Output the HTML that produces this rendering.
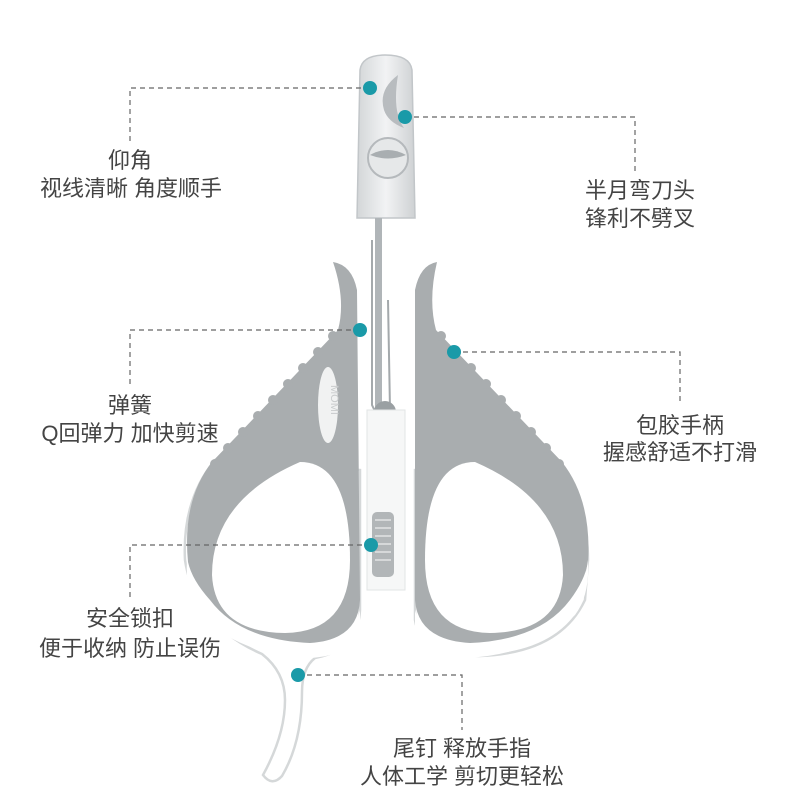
<!DOCTYPE html>
<html><head><meta charset="utf-8"><style>
html,body{margin:0;padding:0;background:#fff}
.t{font-family:"Liberation Sans","Noto Sans CJK SC",sans-serif;font-size:22px;fill:#444}
</style></head><body>
<svg width="800" height="800" viewBox="0 0 800 800" xmlns="http://www.w3.org/2000/svg">
<defs>
<linearGradient id="bl" x1="0" x2="1"><stop offset="0" stop-color="#d3d6d8"/><stop offset="0.5" stop-color="#f2f3f4"/><stop offset="1" stop-color="#ced1d3"/></linearGradient>
</defs>
<path d="M357,218 L360,70 Q362,55 385,55 Q410,55 412,70 L415,218 Z" fill="url(#bl)" stroke="#c2c6c9" stroke-width="1.5"/>
<path d="M398,75 Q378,90 384,110 Q388,122 404,128 Q392,112 398,75 Z" fill="#b8bcbf"/>
<ellipse cx="388" cy="158" rx="20" ry="20" fill="#e6e8e9" stroke="#b5b9bc" stroke-width="2"/>
<path d="M370,155 Q388,145 406,155 Q388,162 370,155 Z" fill="#a9aeb1"/>
<rect x="375" y="218" width="7" height="200" fill="#b0b5b8"/>
<path d="M372,240 L372,405 Q378,420 390,410 L388,300" fill="none" stroke="#a4a9ac" stroke-width="2"/>
<circle cx="385" cy="412" r="11" fill="#9aa0a3"/>
<rect x="367" y="410" width="38" height="180" fill="#f6f7f7" stroke="#e2e4e5"/>
<rect x="372" y="512" width="22" height="65" rx="5" fill="#b2b6b8"/>
<g stroke="#d6d8d9" stroke-width="2"><line x1="375" y1="520" x2="391" y2="520"/><line x1="375" y1="528" x2="391" y2="528"/><line x1="375" y1="536" x2="391" y2="536"/><line x1="375" y1="544" x2="391" y2="544"/><line x1="375" y1="552" x2="391" y2="552"/><line x1="375" y1="560" x2="391" y2="560"/></g>
<path d="M360,470 L360,610 Q358,650 315,658 Q302,668 302,692 Q302,742 282,776 Q272,787 263,775 Q285,735 285,700 Q285,672 262,654 Q195,625 185,560 Q182,500 215,460 Z" fill="#fff" stroke="#d5d8d9" stroke-width="2.5"/>
<path d="M333,262 Q352,265 357,290 L360,600 Q358,640 310,643 Q240,640 210,600 Q192,580 188,562 Q182,500 212,462 L338,330 Q346,300 333,262 Z" fill="#a9adaf"/>
<g fill="#a9adaf"><circle cx="333" cy="336" r="5"/><circle cx="318" cy="352" r="5"/><circle cx="303" cy="368" r="5"/><circle cx="288" cy="384" r="5"/><circle cx="273" cy="400" r="5"/><circle cx="258" cy="416" r="5"/><circle cx="243" cy="432" r="5"/><circle cx="228" cy="448" r="5"/><circle cx="215" cy="464" r="5"/></g>
<path d="M187,560 Q192,600 225,625 Q260,648 310,650 Q350,648 360,610 L360,630 Q355,655 310,658 Q240,655 200,615 Q185,595 187,560 Z" fill="#fff"/>
<path d="M300,462 Q350,462 350,560 Q350,632 285,633 Q215,632 212,575 Q212,500 300,462 Z" fill="#fff"/>
<ellipse cx="328" cy="405" rx="10" ry="38" fill="#f1f2f2"/>
<text x="331" y="400" font-family="Liberation Sans" font-size="11" fill="#c9cccd" transform="rotate(90 331 400)" text-anchor="middle">MOMI</text>
<path d="M415,470 L415,620 Q420,655 480,656 Q560,653 585,600 L588,560 Q588,510 560,462 Z" fill="#fff" stroke="#d5d8d9" stroke-width="2.5"/>
<path d="M437,262 Q420,265 415,290 L415,600 Q418,640 470,643 Q540,640 570,600 Q585,580 588,562 Q592,500 562,462 L436,330 Q428,300 437,262 Z" fill="#a9adaf"/>
<g fill="#a9adaf"><circle cx="441" cy="336" r="5"/><circle cx="456" cy="352" r="5"/><circle cx="471" cy="368" r="5"/><circle cx="486" cy="384" r="5"/><circle cx="501" cy="400" r="5"/><circle cx="516" cy="416" r="5"/><circle cx="531" cy="432" r="5"/><circle cx="546" cy="448" r="5"/><circle cx="559" cy="464" r="5"/></g>
<path d="M588,560 Q583,600 550,625 Q515,648 465,650 Q425,648 415,610 L415,630 Q420,655 465,658 Q535,655 575,615 Q590,595 588,560 Z" fill="#fff"/>
<path d="M475,462 Q425,462 425,560 Q425,632 490,633 Q560,632 563,575 Q563,500 475,462 Z" fill="#fff"/>
<g fill="none" stroke="#666" stroke-width="1.2" stroke-dasharray="5,4">
<path d="M370,88 H130 V142"/>
<path d="M405,117 H635 V172"/>
<path d="M360,330 H130 V385"/>
<path d="M454,352 H680 V405"/>
<path d="M371,545 H130 V600"/>
<path d="M298,675 H462 V730"/>
</g>
<g fill="#1a9aa8"><circle cx="370" cy="88" r="7"/><circle cx="405" cy="117" r="7"/><circle cx="360" cy="330" r="7"/><circle cx="454" cy="352" r="7"/><circle cx="371" cy="545" r="7"/><circle cx="298" cy="675" r="7"/></g>
<g class="t" text-anchor="middle">
<text x="130" y="168">仰角</text>
<text x="131" y="196">视线清晰 角度顺手</text>
<text x="640" y="198">半月弯刀头</text>
<text x="640" y="226">锋利不劈叉</text>
<text x="130" y="413">弹簧</text>
<text x="130" y="441">Q回弹力 加快剪速</text>
<text x="680" y="433">包胶手柄</text>
<text x="680" y="460">握感舒适不打滑</text>
<text x="130" y="626">安全锁扣</text>
<text x="130" y="656">便于收纳 防止误伤</text>
<text x="462" y="756">尾钉 释放手指</text>
<text x="462" y="784">人体工学 剪切更轻松</text>
</g>
</svg>
</body></html>
